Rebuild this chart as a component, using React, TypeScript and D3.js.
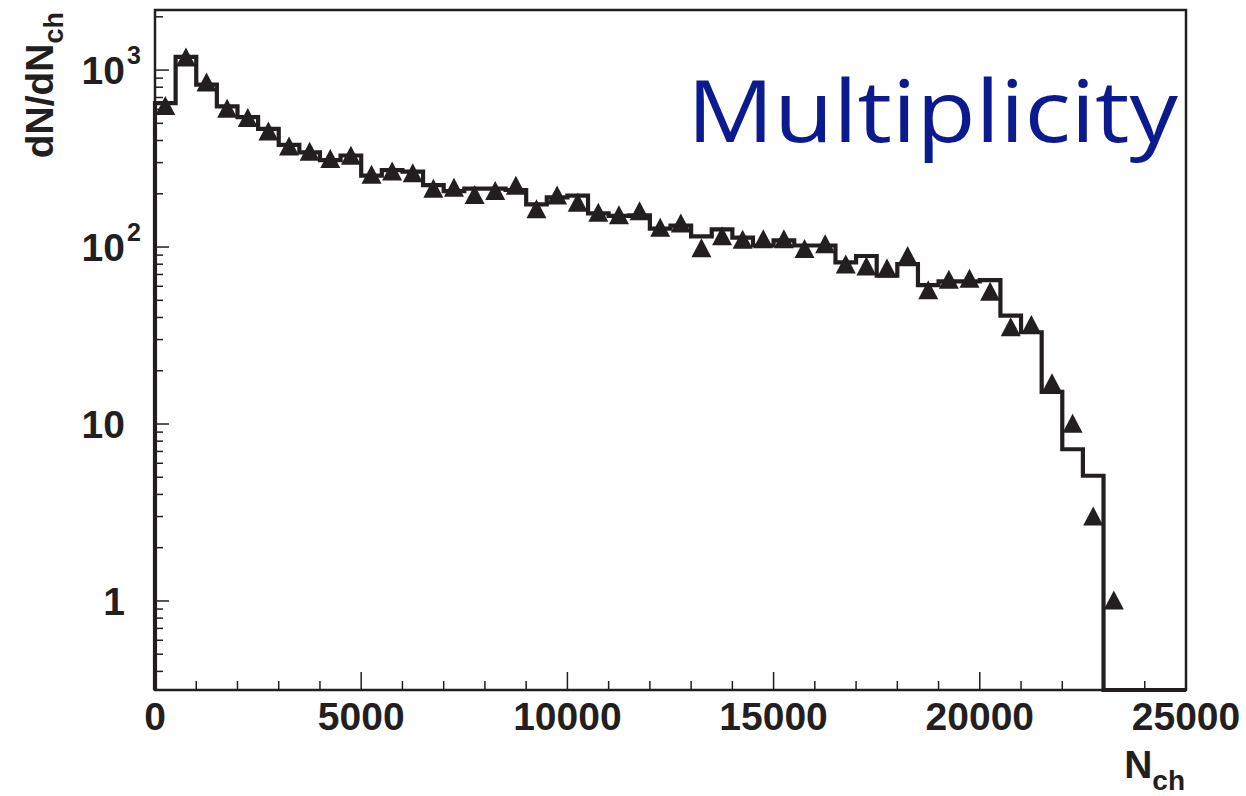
import React from 'react';
import * as d3 from 'd3';

// Histogram (step line): N_ch bins of width 500 starting at 0
const binStart = 0;
const binWidth = 500;
const histValues = [
  650, 1187, 827, 623, 542, 465, 378, 343, 310, 329,
  253, 272, 267, 224, 207, 214, 214, 210, 174, 191,
  195, 155, 150, 151, 127, 132, 115, 126, 113, 102,
  109, 102, 102, 82, 89, 69, 80, 61, 64, 64,
  65, 41, 33, 15.2, 7.2, 5.1,
];
// Triangle markers at the bin centres
const markerValues = [
  604, 1137, 820, 584, 517, 434, 357, 334, 304, 317,
  247, 258, 252, 206, 209, 190, 200, 214, 158, 189,
  172, 151, 146, 154, 124, 131, 95, 111, 106, 107,
  107, 94, 100, 77, 75, 73, 86, 55, 63, 64,
  54, 34, 35, 16.4, 9.7, 2.9, 0.97,
];
const xMajorTicks = [0, 5000, 10000, 15000, 20000, 25000];
const xMinorStep = 1000;
const yLabels = [
  { v: 1, base: '1', sup: '' },
  { v: 10, base: '10', sup: '' },
  { v: 100, base: '10', sup: '2' },
  { v: 1000, base: '10', sup: '3' },
];
const xDomain = [0, 25000];
const yDomain = [0.314, 2185];
const titleText = 'Multiplicity';

const W = 1246, H = 796;
const L = 155, R = 1186, T = 10, B = 690;
const ink = '#231f20';
const font = '"Liberation Sans", Arial, Helvetica, sans-serif';

export default function App() {
  const x = d3.scaleLinear().domain(xDomain).range([L, R]);
  const y = d3.scaleLog().domain(yDomain).range([B, T]);

  // histogram step outline
  const pts: [number, number][] = [];
  pts.push([x(binStart), B]);
  histValues.forEach((v, i) => {
    const lo = binStart + i * binWidth;
    pts.push([x(lo), y(v)]);
    pts.push([x(lo + binWidth), y(v)]);
  });
  pts.push([x(binStart + histValues.length * binWidth), B]);
  pts.push([x(xDomain[1]), B]);
  const histPath = d3.line()(pts) || '';

  const triPath = (cx: number, cy: number) => {
    const p = d3.path();
    p.moveTo(cx, cy - 12.7);
    p.lineTo(cx + 10, cy + 6.3);
    p.lineTo(cx - 10, cy + 6.3);
    p.closePath();
    return p.toString();
  };

  const xMinor = d3.range(xDomain[0], xDomain[1] + 1, xMinorStep).filter((t) => !xMajorTicks.includes(t));
  const yMinor: number[] = [];
  for (let e = -1; e <= 3; e++) {
    for (let m = 2; m <= 9; m++) {
      const v = m * Math.pow(10, e);
      if (v >= yDomain[0] && v <= yDomain[1]) yMinor.push(v);
    }
  }

  return (
    <svg width={W} height={H} style={{ position: 'absolute', left: 0, top: 0, background: '#fff' }}>
      <rect x={0} y={0} width={W} height={H} fill="#fff" />
      <path d={histPath} fill="none" stroke={ink} strokeWidth={4.2} strokeLinejoin="miter" />
      {markerValues.map((v, i) => (
        <path key={i} d={triPath(x(binStart + (i + 0.5) * binWidth), y(v))} fill={ink} />
      ))}
      <rect x={L} y={T} width={R - L} height={B - T} fill="none" stroke={ink} strokeWidth={2.5} />
      {xMajorTicks.map((t) => (
        <line key={'xM' + t} x1={x(t)} x2={x(t)} y1={B} y2={B - 18} stroke={ink} strokeWidth={1.5} />
      ))}
      {xMinor.map((t) => (
        <line key={'xm' + t} x1={x(t)} x2={x(t)} y1={B} y2={B - 9} stroke={ink} strokeWidth={1.5} />
      ))}
      {xMajorTicks.map((t) => (
        <text key={'xl' + t} x={x(t)} y={730} textAnchor="middle" fontFamily={font} fontWeight="bold" fontSize={39} fill={ink}>
          {t}
        </text>
      ))}
      {yLabels.map((d) => (
        <line key={'yM' + d.v} x1={L} x2={L + 14} y1={y(d.v)} y2={y(d.v)} stroke={ink} strokeWidth={1.5} />
      ))}
      {yMinor.map((v) => (
        <line key={'ym' + v} x1={L} x2={L + 8} y1={y(v)} y2={y(v)} stroke={ink} strokeWidth={1.5} />
      ))}
      {yLabels.map((d) => (
        <g key={'yl' + d.v}>
          <text x={125} y={y(d.v) + 14} textAnchor="end" fontFamily={font} fontWeight="bold" fontSize={39} fill={ink}>
            {d.base}
          </text>
          {d.sup && (
            <text x={127} y={y(d.v) - 6} fontFamily={font} fontWeight="bold" fontSize={25} fill={ink}>
              {d.sup}
            </text>
          )}
        </g>
      ))}
      <text transform="translate(53,12) rotate(-90)" textAnchor="end" fontFamily={font} fontWeight="bold" fontSize={39} fill={ink}>
        dN/dN<tspan fontSize={27} dy={10}>ch</tspan>
      </text>
      <text x={1185} y={778} textAnchor="end" fontFamily={font} fontWeight="bold" fontSize={39} fill={ink}>
        N<tspan fontSize={28} dy={12}>ch</tspan>
      </text>
      <text x={687} y={142} fontFamily='"Open Sans", "Noto Sans", sans-serif' fontSize={86} fill="#0b1a8e" textLength={491} lengthAdjust="spacingAndGlyphs">
        {titleText}
      </text>
    </svg>
  );
}
